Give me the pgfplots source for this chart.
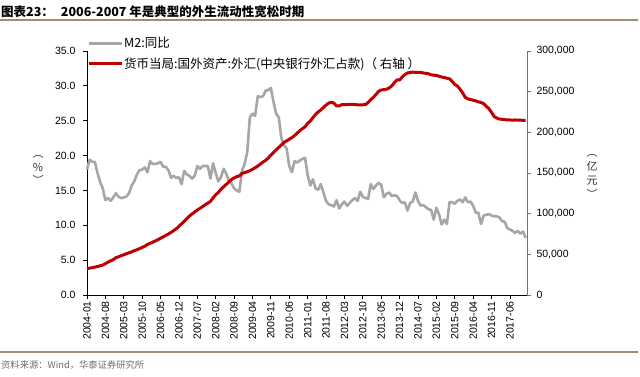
\documentclass[border=0pt]{standalone}
\usepackage{pgfplots}
\usepackage{pgfplotstable}
\pgfplotsset{compat=1.18}
\usepackage{fontspec}
\setmainfont{Liberation Sans}
\newfontfamily\cjk{Noto Sans CJK SC}
\definecolor{greyline}{RGB}{166,166,166}
\definecolor{redline}{RGB}{192,0,0}
\definecolor{brownline}{RGB}{160,140,120}
\definecolor{srcgrey}{RGB}{110,110,110}

\pgfplotstableread{
i m2 fx
0 18.0 32500
1 19.4 33000
2 19.1 33600
3 19.1 34300
4 17.5 35100
5 16.2 35900
6 15.3 36800
7 13.6 38500
8 13.9 40500
9 13.5 42000
10 14.0 43500
11 14.6 45900
12 14.1 47000
13 13.9 48300
14 14.0 49500
15 14.1 50700
16 14.6 51900
17 15.7 53000
18 16.3 54500
19 17.3 55600
20 17.9 57000
21 18.0 58500
22 18.3 60000
23 17.6 62100
24 19.2 63500
25 18.8 65000
26 18.8 66500
27 18.9 68000
28 19.1 69800
29 18.4 71500
30 18.4 73300
31 17.9 75000
32 16.8 77000
33 17.1 79200
34 16.8 81500
35 16.9 84400
36 15.9 87500
37 17.8 90500
38 17.3 94000
39 17.1 97000
40 16.7 99700
41 17.1 102000
42 18.5 104500
43 18.1 106500
44 18.5 108700
45 18.5 111000
46 18.5 113000
47 16.7 115200
48 18.9 119500
49 17.5 123400
50 16.3 126000
51 16.9 130000
52 18.1 133000
53 17.4 136000
54 16.4 139000
55 16.0 142000
56 15.3 144000
57 15.0 145500
58 14.8 146500
59 17.8 149600
60 18.8 150500
61 20.5 151500
62 25.5 152800
63 26.0 154500
64 25.7 156500
65 28.5 158500
66 28.4 161000
67 28.5 163500
68 29.3 165500
69 29.4 168500
70 29.7 172000
71 27.7 175200
72 26.0 178500
73 25.5 181500
74 22.5 184500
75 21.5 187500
76 21.0 189500
77 18.5 191500
78 17.6 193500
79 19.2 196000
80 19.0 199000
81 19.3 202000
82 19.5 204500
83 19.7 206800
84 17.2 211000
85 15.7 214000
86 16.6 218000
87 15.3 222000
88 15.1 225000
89 15.9 227500
90 14.7 230500
91 13.5 233500
92 13.0 236000
93 12.9 236800
94 12.7 236000
95 13.6 232400
96 12.4 232500
97 13.0 234000
98 13.4 234200
99 12.8 234000
100 13.2 234300
101 13.6 234400
102 13.9 234200
103 13.5 233800
104 14.8 233800
105 14.1 233900
106 13.9 234000
107 13.8 236700
108 15.9 240000
109 15.2 243000
110 15.7 246500
111 16.1 250500
112 15.8 252000
113 14.0 252500
114 14.5 253000
115 14.7 254500
116 14.2 257000
117 14.3 261000
118 14.2 264500
119 13.6 264300
120 13.2 268000
121 13.3 271000
122 12.1 273000
123 13.2 273500
124 13.4 274000
125 14.7 273800
126 13.5 273600
127 12.8 273600
128 12.9 273000
129 12.6 272500
130 12.3 272000
131 12.2 270700
132 10.8 270300
133 12.5 270000
134 11.6 269000
135 10.1 268000
136 10.8 267500
137 10.2 266500
138 13.3 265800
139 13.3 262700
140 13.1 258800
141 13.5 257000
142 13.7 253000
143 13.3 248500
144 14.0 243000
145 13.3 241200
146 13.4 240200
147 12.8 239500
148 11.8 238700
149 11.8 237500
150 10.2 236700
151 11.4 235300
152 11.5 232100
153 11.6 229000
154 11.4 224500
155 11.3 219400
156 11.3 217500
157 11.1 216400
158 10.6 216000
159 10.5 215600
160 9.6 215200
161 9.4 215200
162 9.2 215000
163 8.9 215200
164 9.2 215000
165 8.8 214900
166 9.1 214800
167 8.2 214800
}\datatable

\begin{document}
\begin{tikzpicture}
\useasboundingbox (0,0) rectangle (640bp,377bp);
% title and rules
\node[anchor=west, inner sep=0pt, font=\cjk\bfseries\fontsize{12.5bp}{14bp}\selectfont] at (1bp,365bp) {图表23：\hspace{7bp}2006-2007 年是典型的外生流动性宽松时期};
\draw[brownline, line width=2bp] (0bp,357bp) -- (638bp,357bp);
\draw[brownline, line width=2.2bp] (0bp,25bp) -- (638bp,25bp);
\node[anchor=west, inner sep=0pt, text=srcgrey, font=\cjk\fontsize{9.3bp}{11bp}\selectfont] at (1bp,12bp) {资料来源：Wind，华泰证券研究所};
% axis titles
\node[align=center, inner sep=0pt, font=\cjk\fontsize{11bp}{13.5bp}\selectfont, text=black!80] at (38bp,207bp) {︵\\\%\\︶};
\node[align=center, inner sep=0pt, font=\cjk\fontsize{11bp}{14bp}\selectfont, text=black!80] at (592bp,201bp) {︵\\亿\\元\\︶};

\begin{axis}[
  at={(87bp,82bp)}, anchor=south west,
  width=440bp, height=244bp, scale only axis,
  xmin=0, xmax=167.5, ymin=0, ymax=35,
  axis x line*=bottom, axis y line*=left,
  axis line style={black, line width=1bp},
  tick style={black, line width=0.8bp},
  tick align=outside, major tick length=4bp,
  xtick={0,7,...,161},
  xticklabels={2004-01,2004-08,2005-03,2005-10,2006-05,2006-12,2007-07,2008-02,2008-09,2009-04,2009-11,2010-06,2011-01,2011-08,2012-03,2012-10,2013-05,2013-12,2014-07,2015-02,2015-09,2016-04,2016-11,2017-06},
  x tick label style={rotate=90, anchor=east, font=\fontsize{10.5bp}{12bp}\selectfont, inner sep=2bp},
  ytick={0,5,...,35},
  y tick label style={font=\fontsize{10.5bp}{12bp}\selectfont, xshift=-4bp},
  yticklabel style={/pgf/number format/fixed, /pgf/number format/fixed zerofill, /pgf/number format/precision=1},
  /pgf/number format/assume math mode=true,
  legend style={at={(0,1.06)}, anchor=north west, draw=none, fill=none,
     font=\cjk\fontsize{12.5bp}{14bp}\selectfont, row sep=6bp, inner sep=0pt,
     nodes={inner sep=1bp}},
  legend cell align=left,
  legend image code/.code={\draw[#1] (0bp,0bp) -- (33bp,0bp);},
  clip=false,
]
\addplot[greyline, line width=2.6bp, line join=round] table[x=i, y=m2] {\datatable};
\addlegendentry{M2:同比}
\addlegendimage{redline, line width=3bp}
\addlegendentry{货币当局:国外资产:外汇(中央银行外汇占款)（ 右轴 ）}
\end{axis}

\begin{axis}[
  at={(87bp,82bp)}, anchor=south west,
  width=440bp, height=244bp, scale only axis,
  xmin=0, xmax=167.5, ymin=0, ymax=300000,
  axis x line=none, axis y line*=right,
  axis line style={black!55, line width=1bp},
  tick style={black!55, line width=0.8bp},
  tick align=outside, major tick length=4bp,
  ytick={0,50000,...,300000},
  scaled y ticks=false,
  yticklabel style={/pgf/number format/fixed, /pgf/number format/1000 sep={,}, font=\fontsize{10.5bp}{12bp}\selectfont, xshift=2bp},
  /pgf/number format/assume math mode=true,
]
\addplot[redline, line width=3bp, line join=round] table[x=i, y=fx] {\datatable};
\end{axis}
\end{tikzpicture}
\end{document}
